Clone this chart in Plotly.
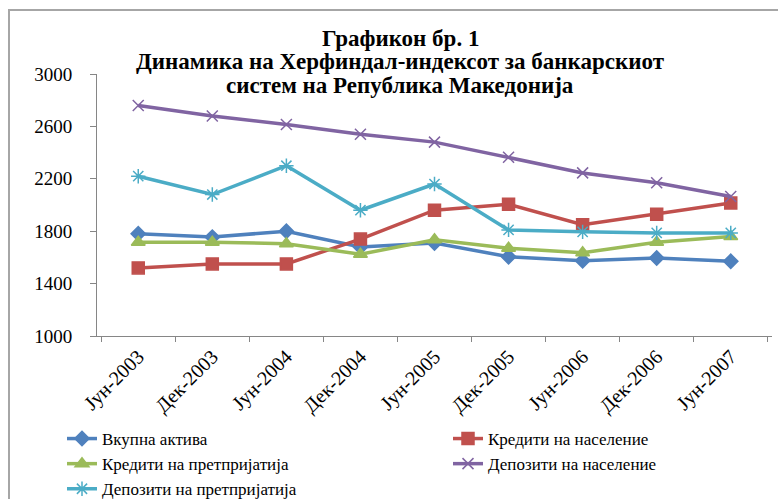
import plotly.graph_objects as go

categories = ["Јун-2003", "Дек-2003", "Јун-2004", "Дек-2004", "Јун-2005",
              "Дек-2005", "Јун-2006", "Дек-2006", "Јун-2007"]

vkupna_aktiva = [1780, 1755, 1800, 1680, 1710, 1605, 1575, 1595, 1570]
krediti_naselenie = [1520, 1550, 1550, 1740, 1960, 2005, 1850, 1930, 2015]
krediti_pretprijatija = [1715, 1715, 1705, 1625, 1735, 1670, 1635, 1715, 1760]
depoziti_naselenie = [2760, 2680, 2615, 2540, 2480, 2365, 2245, 2170, 2065]
depoziti_pretprijatija = [2220, 2080, 2300, 1960, 2160, 1810, 1795, 1787, 1787]

title_lines = ["Графикон бр. 1",
               "Динамика на Херфиндал-индексот за банкарскиот",
               "систем на Република Македонија"]

# name, values, colour, marker, size, legend column
series = [
    ("Вкупна актива", vkupna_aktiva, "#4F81BD", "diamond", 11, "legend"),
    ("Кредити на население", krediti_naselenie, "#C0504D", "square", 12, "legend2"),
    ("Кредити на претпријатија", krediti_pretprijatija, "#9BBB59", "triangle-up", 12, "legend"),
    ("Депозити на население", depoziti_naselenie, "#8064A2", "x-thin-open", 11, "legend2"),
    ("Депозити на претпријатија", depoziti_pretprijatija, "#4BACC6", "asterisk-open", 12, "legend"),
]

fig = go.Figure()
for name, vals, color, symbol, size, leg in series:
    fig.add_trace(go.Scatter(
        x=categories, y=vals, name=name, mode="lines+markers", legend=leg,
        line=dict(color=color, width=3.5),
        marker=dict(symbol=symbol, size=size, color=color,
                    line=dict(color=color, width=1.5)),
    ))

# plot area: x 97..772 px, y 74..336 px
def py(pix):
    return (336 - pix) / 262

def px(pix):
    return (pix - 97) / 675

serif = "Liberation Serif, Times New Roman, serif"

# title lines as separate annotations to keep tight line spacing
title_annots = []
for i, line in enumerate(title_lines):
    title_annots.append(dict(
        text="<b>" + line + "</b>", xref="paper", yref="paper",
        x=px(400), y=py(38 + 23.5 * i), xanchor="center", yanchor="middle",
        showarrow=False, font=dict(family=serif, size=23, color="black"),
    ))

legend_style = dict(
    orientation="v", xanchor="left", y=py(421), yanchor="top",
    bgcolor="rgba(0,0,0,0)", font=dict(family=serif, size=17),
    tracegroupgap=0, itemwidth=30,
)

fig.update_layout(
    width=778, height=499,
    margin=dict(l=97, r=6, t=74, b=163, autoexpand=False),
    plot_bgcolor="white", paper_bgcolor="white",
    font=dict(family=serif, size=18, color="black"),
    annotations=title_annots,
    showlegend=True,
    legend=dict(legend_style, x=px(62)),
    legend2=dict(legend_style, x=px(448)),
    xaxis=dict(
        showline=True, linecolor="#868686", linewidth=1, automargin=False,
        ticks="outside", tickson="boundaries", ticklen=5, tickcolor="#868686",
        tickangle=-45, showgrid=False, tickfont=dict(size=20),
    ),
    yaxis=dict(
        range=[1000, 3000], tick0=1000, dtick=400, showline=True,
        linecolor="#868686", linewidth=1, ticks="outside", ticklen=6,
        tickcolor="#868686", showgrid=False, zeroline=False, automargin=False,
        tickfont=dict(size=19), ticklabelstandoff=14,
    ),
    shapes=[dict(
        type="rect", xref="paper", yref="paper",
        x0=px(9), x1=px(800), y0=py(520), y1=py(10),
        line=dict(color="#a6a6a6", width=2),
    )],
)

fig.write_html("out.html", config={"displayModeBar": False},
               post_script="document.body.style.margin='0';")
